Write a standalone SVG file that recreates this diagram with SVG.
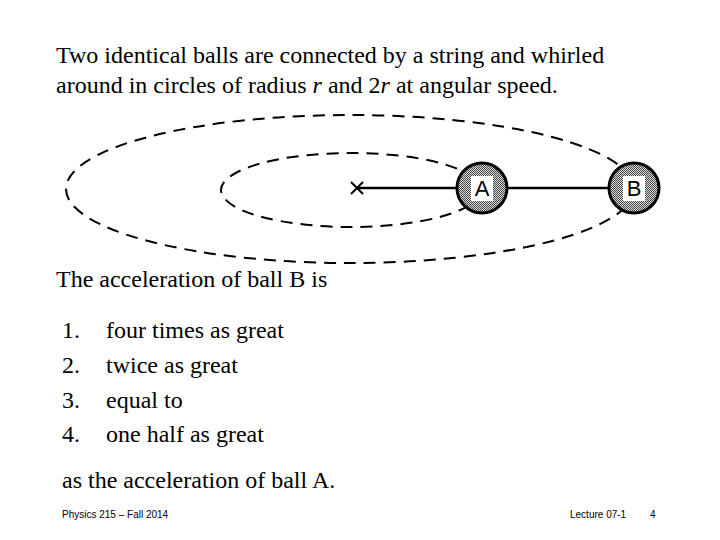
<svg xmlns="http://www.w3.org/2000/svg" width="720" height="540" viewBox="0 0 720 540">
<defs>
<pattern id="dots" width="2" height="2" patternUnits="userSpaceOnUse"><rect width="2" height="2" fill="#ddd"/><rect width="1" height="1" fill="#444"/><rect x="1" y="1" width="1" height="1" fill="#444"/></pattern>
</defs>
<style>
.t{font-family:"Liberation Serif",serif;font-size:24px;fill:#000}
.f{font-family:"Liberation Sans",sans-serif;font-size:10px;fill:#000}
.orbit{fill:none;stroke:#000;stroke-width:2;stroke-dasharray:12,8}
.ball{fill:url(#dots);stroke:#000;stroke-width:3}
.lbl{font-family:"Liberation Sans",sans-serif;font-size:22px;text-anchor:middle}
</style>
<rect width="720" height="540" fill="#fff"/>
<text class="t" x="56" y="63">Two identical balls are connected by a string and whirled</text>
<text class="t" x="56" y="93">around in circles of radius <tspan font-style="italic">r</tspan> and 2<tspan font-style="italic">r</tspan> at angular speed.</text>
<g id="orbits">
<ellipse class="orbit" cx="350" cy="189" rx="284" ry="74"/>
<ellipse class="orbit" cx="351" cy="190" rx="130" ry="37"/>
</g>
<g id="connectors">
<line x1="357" y1="188" x2="634" y2="188" stroke="#000" stroke-width="2.5"/>
<path d="M351 182 L363 194 M351 194 L363 182" stroke="#000" stroke-width="2"/>
</g>
<g id="A"><circle class="ball" cx="482" cy="188" r="25"/><rect x="471" y="176" width="22" height="25" fill="#fff"/><text class="lbl" x="482" y="196">A</text></g>
<g id="B"><circle class="ball" cx="634" cy="188" r="25"/><rect x="623" y="176" width="22" height="25" fill="#fff"/><text class="lbl" x="634" y="196">B</text></g>
<text class="t" x="56" y="287">The acceleration of ball B is</text>
<text class="t" x="62" y="338">1.</text><text class="t" x="106" y="338">four times as great</text>
<text class="t" x="62" y="373">2.</text><text class="t" x="106" y="373">twice as great</text>
<text class="t" x="62" y="408">3.</text><text class="t" x="106" y="408">equal to</text>
<text class="t" x="62" y="442">4.</text><text class="t" x="106" y="442">one half as great</text>
<text class="t" x="62" y="488">as the acceleration of ball A.</text>
<text class="f" x="62" y="518">Physics 215 – Fall 2014</text>
<text class="f" x="570" y="518">Lecture 07-1</text>
<text class="f" x="650" y="518">4</text>
</svg>
